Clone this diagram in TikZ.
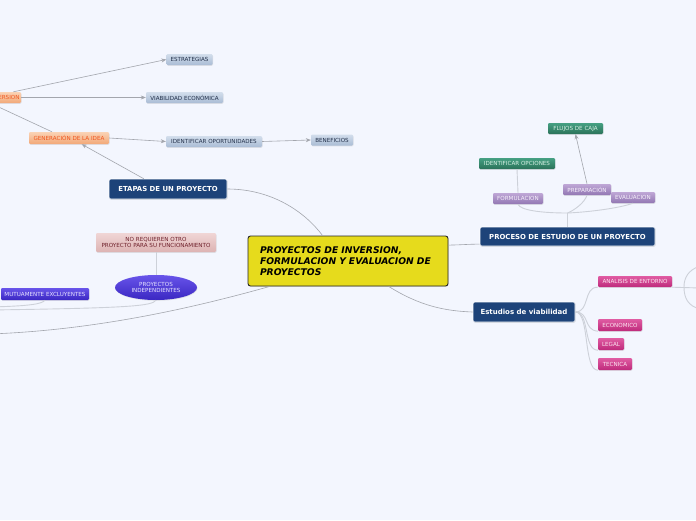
\documentclass[tikz,border=0pt]{standalone}
\usepackage{fontspec}
\setmainfont{DejaVu Sans}
\usetikzlibrary{arrows.meta,shapes.geometric,shadows}
\definecolor{bg}{HTML}{F3F6FE}
\definecolor{conn}{HTML}{A3A6AD}
\definecolor{lconn}{HTML}{CDD1D9}
\definecolor{darkblue}{HTML}{1D4379}
\definecolor{yel}{HTML}{E6DB1C}
\definecolor{bgT}{HTML}{D3DEEC}\definecolor{bgB}{HTML}{A9BCD5}\definecolor{bgX}{HTML}{22304A}
\definecolor{orT}{HTML}{FAD3B5}\definecolor{orB}{HTML}{F2A878}\definecolor{orX}{HTML}{F0561F}
\definecolor{piT}{HTML}{F0D6D6}\definecolor{piB}{HTML}{DDB3B3}\definecolor{piX}{HTML}{6E1F2A}
\definecolor{grT}{HTML}{46A083}\definecolor{grB}{HTML}{2A7259}\definecolor{grX}{HTML}{D6F0E3}
\definecolor{liT}{HTML}{BFA7D6}\definecolor{liB}{HTML}{9277B3}\definecolor{liX}{HTML}{F6F0FB}
\definecolor{maT}{HTML}{E05CA3}\definecolor{maB}{HTML}{BE2A7B}\definecolor{maX}{HTML}{FCE6F1}
\definecolor{puT}{HTML}{6854EA}\definecolor{puB}{HTML}{3A27C2}\definecolor{puX}{HTML}{E8E4FF}
\tikzset{
  box/.style={rectangle, rounded corners=1.2pt, inner sep=0pt, align=center,
    font=\fontsize{5.6}{6.6}\selectfont, drop shadow={opacity=0.18, shadow xshift=0.5pt, shadow yshift=-0.8pt}},
  bluegray/.style={box, top color=bgT, bottom color=bgB, text=bgX},
  orangebox/.style={box, top color=orT, bottom color=orB, text=orX},
  pinkbox/.style={box, top color=piT, bottom color=piB, text=piX},
  greenbox/.style={box, top color=grT, bottom color=grB, text=grX},
  lilacbox/.style={box, top color=liT, bottom color=liB, text=liX},
  magbox/.style={box, top color=maT, bottom color=maB, text=maX},
  purplebox/.style={box, top color=puT, bottom color=puB, text=puX},
  darkbox/.style={rectangle, rounded corners=1.5pt, inner sep=0pt, fill=darkblue, draw=white, line width=0.6pt,
    text=white, font=\fontsize{6.9}{8}\selectfont\bfseries,
    drop shadow={opacity=0.25, shadow xshift=0.6pt, shadow yshift=-0.8pt}},
  arr/.style={draw=conn, line width=0.6pt, -{Stealth[length=5pt,width=4pt]}},
  ln/.style={draw=conn, line width=0.6pt},
  lln/.style={draw=lconn, line width=0.9pt},
}
\begin{document}
\begin{tikzpicture}[x=1pt,y=-1pt]
\fill[bg] (0,0) rectangle (696,520);
\clip (0,0) rectangle (696,520);

% ---------- nodes ----------
\node[orangebox, minimum width=61pt, minimum height=11pt, text width=58pt, align=right] (inv) at (-9.5,97.5) {INVERSION};
\node[bluegray, minimum width=46pt, minimum height=11pt] (estr) at (189.5,59.5) {ESTRATEGIAS};
\node[bluegray, minimum width=77pt, minimum height=11pt] (viab) at (184.5,97.5) {VIABILIDAD ECONÓMICA};
\node[orangebox, minimum width=80pt, minimum height=12pt] (gen) at (69,138) {GENERACIÓN DE LA IDEA};
\node[bluegray, minimum width=96pt, minimum height=11pt] (idop) at (214,141.5) {IDENTIFICAR OPORTUNIDADES};
\node[bluegray, minimum width=42pt, minimum height=11pt] (ben) at (332,140) {BENEFICIOS};
\node[darkbox, minimum width=118pt, minimum height=20pt] (etapas) at (168,189) {ETAPAS DE UN PROYECTO};
\node[pinkbox, minimum width=120pt, minimum height=19pt] (noreq) at (156,242.5) {NO REQUIEREN OTRO\\PROYECTO PARA SU FUNCIONAMIENTO};
\node[purplebox, ellipse, minimum width=82pt, minimum height=25pt] (indep) at (156,287.5) {PROYECTOS\\INDEPENDIENTES};
\node[purplebox, minimum width=88pt, minimum height=12pt] (mutu) at (45,294) {MUTUAMENTE EXCLUYENTES};
\node[rectangle, rounded corners=2.5pt, fill=yel, draw=black!85, line width=0.9pt,
      minimum width=198pt, minimum height=50pt, text width=176pt, inner xsep=12pt, inner ysep=0pt, align=left,
      font=\fontsize{9.2}{11}\selectfont\bfseries\itshape,
      drop shadow={opacity=0.2, shadow xshift=0.6pt, shadow yshift=-0.8pt}] (cent) at (348,261)
      {PROYECTOS DE INVERSION,\\FORMULACION Y EVALUACION DE\\PROYECTOS};

\node[greenbox, minimum width=55pt, minimum height=11pt] (flu) at (575.5,128.5) {FLUJOS DE CAJA};
\node[greenbox, minimum width=76pt, minimum height=11pt] (idopc) at (517,163.5) {IDENTIFICAR OPCIONES};
\node[lilacbox, minimum width=50pt, minimum height=11pt] (form) at (518,198.5) {FORMULACION};
\node[lilacbox, minimum width=48pt, minimum height=11pt] (prep) at (587,189.5) {PREPARACIÓN};
\node[lilacbox, minimum width=44pt, minimum height=11pt] (eval) at (633,197.5) {EVALUACION};
\node[darkbox, minimum width=175pt, minimum height=19pt] (proc) at (567.5,236.5) {PROCESO DE ESTUDIO DE UN PROYECTO};
\node[darkbox, minimum width=102pt, minimum height=20pt, font=\fontsize{7}{8}\selectfont\bfseries] (est) at (524,312) {Estudios de viabilidad};
\node[magbox, minimum width=74pt, minimum height=11pt] (anal) at (635,281.5) {ANALISIS DE ENTORNO};
\node[magbox, minimum width=44pt, minimum height=12pt] (econ) at (620,325) {ECONOMICO};
\node[magbox, minimum width=26pt, minimum height=12pt] (leg) at (611,344) {LEGAL};
\node[magbox, minimum width=34pt, minimum height=12pt] (tec) at (615,364) {TECNICA};

% ---------- free ends ----------
\coordinate (lftA) at (-10,334);
\coordinate (lftB) at (-10,310);
\coordinate (lftC) at (-10,307);
\coordinate (pj) at (567.5,213);
\coordinate (rt) at (700,288);
\coordinate (rbA) at (700,266);
\coordinate (rbM) at (684,287);
\coordinate (rbB) at (700,309);

% ---------- connectors ----------
\draw[arr] (inv.14) -- (estr.west);
\draw[arr] (inv.east) -- (viab.west);
\draw[ln] (inv.south) -- (gen.160);
\draw[arr] (gen.east) -- (idop.west);
\draw[arr] (idop.east) -- (ben.west);
\draw[arr] (etapas.157) -- (gen.-26);
\draw[ln] (etapas.east) .. controls (272,189) and (305,212) .. (cent.135);
\draw[ln] (cent.9) .. controls (460,245) and (470,244) .. (proc.185);
\draw[ln] (cent.-32) .. controls (420,306) and (445,311) .. (est.west);
\draw[ln] (cent.198) .. controls (200,306) and (100,330) .. (lftA);
\draw[lln] (indep.south) .. controls (152,306) and (130,308) .. (lftB);
\draw[lln] (mutu.south) .. controls (42,304) and (30,306) .. (lftC);
\draw[lln] (indep.north) -- (noreq.south);
\draw[lln] (proc.north) -- (pj);
\draw[lln] (pj) .. controls (540,213) and (520,210) .. (form.south);
\draw[lln] (pj) .. controls (575,210) and (585,202) .. (prep.south);
\draw[lln] (pj) .. controls (590,212) and (620,208) .. (eval.south);
\draw[lln] (form.north) -- (idopc.south);
\draw[arr] (prep.north) -- (flu.south);
\draw[lln] (est.east) .. controls (590,312) and (583,287) .. (anal.south west);
\draw[lln] (est.east) .. controls (590,312) and (583,330) .. (econ.south west);
\draw[lln] (est.east) .. controls (590,312) and (583,350) .. (leg.south west);
\draw[lln] (est.east) .. controls (590,312) and (583,370) .. (tec.south west);
\draw[lln] (anal.south east) -- (rt);
\draw[lln] (rbA) .. controls (688,270) and (684,278) .. (rbM) .. controls (684,298) and (688,306) .. (rbB);
\end{tikzpicture}
\end{document}
